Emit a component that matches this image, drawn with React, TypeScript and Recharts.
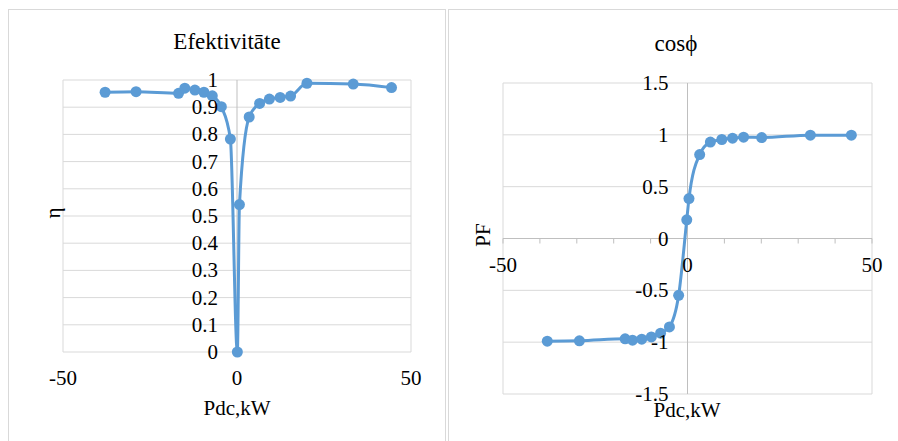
import React from 'react'
import {
  LineChart,
  Line,
  XAxis,
  YAxis,
  CartesianGrid,
  ReferenceLine,
} from 'recharts'

// Efektivitāte (left) – Pdc, kW vs η
const pdcEta = [-37.9, -29.0, -16.8, -15.0, -12.1, -9.5, -7.1, -4.5, -1.9, 0.1, 0.7, 3.5, 6.5, 9.3, 12.4, 15.4, 20.1, 33.4, 44.4]
const etaValues = [0.955, 0.957, 0.951, 0.97, 0.963, 0.955, 0.942, 0.902, 0.783, 0, 0.542, 0.864, 0.914, 0.93, 0.936, 0.941, 0.988, 0.985, 0.972]

// cosϕ (right) – Pdc, kW vs PF
const pdcPf = [-38.0, -29.3, -16.9, -14.9, -12.4, -9.8, -7.3, -4.9, -2.4, -0.2, 0.4, 3.3, 6.2, 9.3, 12.2, 15.2, 20.1, 33.3, 44.4]
const pfValues = [-0.99, -0.987, -0.968, -0.981, -0.971, -0.949, -0.913, -0.853, -0.548, 0.18, 0.385, 0.81, 0.93, 0.955, 0.968, 0.977, 0.974, 0.997, 0.997]

const xTicks = [-50, 0, 50]
const xMinorTicks = [-50, -40, -30, -20, -10, 0, 10, 20, 30, 40, 50]
const etaTicks = [0, 0.1, 0.2, 0.3, 0.4, 0.5, 0.6, 0.7, 0.8, 0.9, 1]
const pfTicks = [-1.5, -1, -0.5, 0, 0.5, 1, 1.5]

const BLUE = '#5B9BD5'
const GRID = '#d9d9d9'
const AXIS = '#bfbfbf'
const FONT = '"Liberation Serif", "Times New Roman", serif'
const TICK_SIZE = 21

const etaData = pdcEta.map((p, i) => ({ pdc: p, v: etaValues[i] }))
const pfData = pdcPf.map((p, i) => ({ pdc: p, v: pfValues[i] }))

// plot areas, in page pixels (each chart's svg is placed so its coords match)
const L = { x: 0, width: 446, height: 441, left: 63, right: 411, top: 80, bottom: 352 }
const R = { x: 446, width: 452, height: 441, left: 57, right: 426, top: 83, bottom: 394 }

const lerp = (v: number, d0: number, d1: number, p0: number, p1: number) =>
  p0 + ((v - d0) / (d1 - d0)) * (p1 - p0)

const leftZeroX = lerp(0, -50, 50, L.left, L.right)
const rightZeroX = lerp(0, -50, 50, R.left, R.right)
const rightZeroY = lerp(0, 1.5, -1.5, R.top, R.bottom)

const tickStyle: React.CSSProperties = { fontFamily: FONT, fontSize: TICK_SIZE, fill: '#000' }

function EtaYTick(props: any) {
  return (
    <text x={leftZeroX - 19} y={props.y} textAnchor="end" dominantBaseline="central" style={tickStyle}>
      {props.payload.value}
    </text>
  )
}

function EtaXTick(props: any) {
  return (
    <text x={props.x} y={L.bottom + 26} textAnchor="middle" dominantBaseline="central" style={tickStyle}>
      {props.payload.value}
    </text>
  )
}

function PfYTick(props: any) {
  return (
    <text x={rightZeroX - 19} y={props.y} textAnchor="end" dominantBaseline="central" style={tickStyle}>
      {props.payload.value}
    </text>
  )
}

function PfXTick(props: any) {
  const v = props.payload.value
  return (
    <g>
      <line x1={props.x} x2={props.x} y1={rightZeroY} y2={rightZeroY + 5} stroke={AXIS} />
      {v % 50 === 0 && (
        <text x={props.x} y={rightZeroY + 26} textAnchor="middle" dominantBaseline="central" style={tickStyle}>
          {v}
        </text>
      )}
    </g>
  )
}

const textStyle: React.CSSProperties = {
  position: 'absolute',
  fontFamily: FONT,
  color: '#000',
  whiteSpace: 'nowrap',
  textAlign: 'center',
}

function Rotated({ text, cx, cy }: { text: string; cx: number; cy: number }) {
  return (
    <div style={{ ...textStyle, left: cx, top: cy, fontSize: 21, lineHeight: 1,
      transform: 'translate(-50%, -50%) rotate(-90deg)' }}>
      {text}
    </div>
  )
}

const dotStyle = { r: 5.5, fill: BLUE, stroke: BLUE, strokeWidth: 0 }

export default function App() {
  return (
    <div style={{ position: 'absolute', left: 0, top: 0, width: 898, height: 441,
      overflow: 'hidden', background: '#fff' }}>
      {/* panel frames */}
      <div style={{ position: 'absolute', left: 8, top: 9, width: 438, height: 460,
        border: `1px solid ${GRID}`, boxSizing: 'border-box' }} />
      <div style={{ position: 'absolute', left: 448, top: 9, width: 458, height: 460,
        border: `1px solid ${GRID}`, boxSizing: 'border-box' }} />

      {/* titles */}
      <div style={{ ...textStyle, left: 8, width: 438, top: 27, fontSize: 23, lineHeight: '30px' }}>
        Efektivitāte
      </div>
      <div style={{ ...textStyle, left: 448, width: 456, top: 29, fontSize: 23, lineHeight: '30px' }}>
        cosϕ
      </div>

      <div style={{ position: 'absolute', left: L.x, top: 0 }}>
        <LineChart width={L.width} height={L.height} data={etaData}
          margin={{ top: L.top, right: L.width - L.right, left: L.left - 40, bottom: L.height - L.bottom - 30 }}>
          <CartesianGrid stroke={GRID} strokeWidth={1} vertical={false} />
          <XAxis dataKey="pdc" type="number" domain={[-50, 50]} ticks={xTicks} interval={0}
            axisLine={false} tickLine={false} tick={<EtaXTick />} height={30} />
          <YAxis type="number" domain={[0, 1]} ticks={etaTicks} interval={0}
            axisLine={false} tickLine={false} tick={<EtaYTick />} width={40} />
          <ReferenceLine x={-50} stroke={GRID} />
          <ReferenceLine x={50} stroke={GRID} />
          <ReferenceLine x={0} stroke={AXIS} />
          <Line type="monotone" dataKey="v" stroke={BLUE} strokeWidth={3}
            dot={dotStyle} activeDot={false} isAnimationActive={false} />
        </LineChart>
      </div>

      <div style={{ position: 'absolute', left: R.x, top: 0 }}>
        <LineChart width={R.width} height={R.height} data={pfData}
          margin={{ top: R.top, right: R.width - R.right, left: R.left - 40, bottom: R.height - R.bottom - 30 }}>
          <CartesianGrid stroke={GRID} strokeWidth={1} vertical={false} />
          <XAxis dataKey="pdc" type="number" domain={[-50, 50]} ticks={xMinorTicks} interval={0}
            axisLine={false} tickLine={false} tick={<PfXTick />} height={30} />
          <YAxis type="number" domain={[-1.5, 1.5]} ticks={pfTicks} interval={0}
            axisLine={false} tickLine={false} tick={<PfYTick />} width={40} />
          <ReferenceLine x={-50} stroke={GRID} />
          <ReferenceLine x={50} stroke={GRID} />
          <ReferenceLine x={0} stroke={AXIS} />
          <ReferenceLine y={0} stroke={AXIS} />
          <Line type="monotone" dataKey="v" stroke={BLUE} strokeWidth={3}
            dot={dotStyle} activeDot={false} isAnimationActive={false} />
        </LineChart>
      </div>

      {/* axis titles */}
      <div style={{ ...textStyle, left: 137, width: 200, top: 396, fontSize: 21, lineHeight: '24px' }}>
        Pdc,kW
      </div>
      <div style={{ ...textStyle, left: 587, width: 200, top: 398, fontSize: 21, lineHeight: '24px' }}>
        Pdc,kW
      </div>
      <Rotated text="η" cx={53} cy={213} />
      <Rotated text="PF" cx={483} cy={235} />
    </div>
  )
}
